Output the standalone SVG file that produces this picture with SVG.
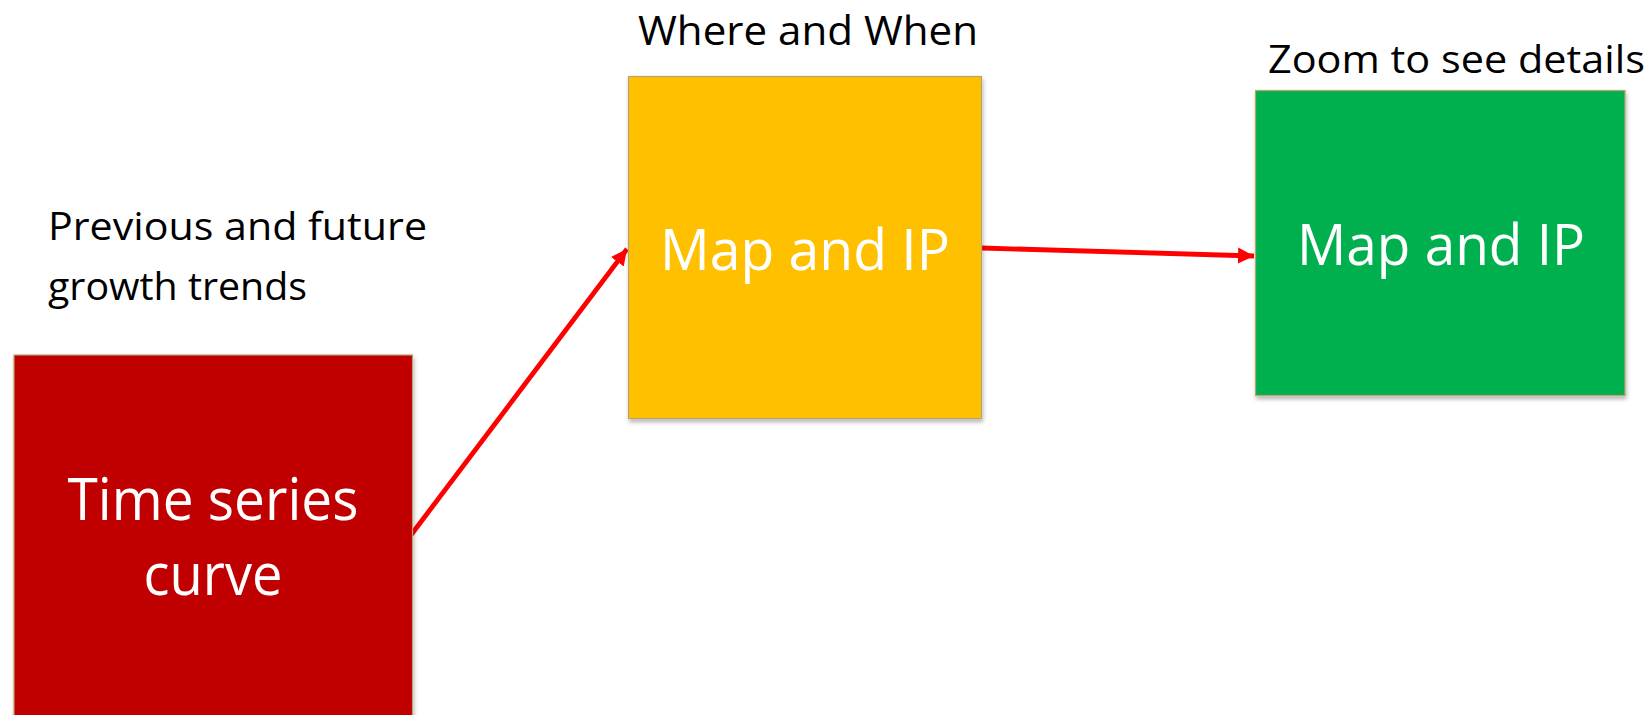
<svg xmlns="http://www.w3.org/2000/svg" width="1652" height="715" viewBox="0 0 1652 715">
  <style>
    .box { stroke: #b9a36e; stroke-width: 1.2; filter: url(#shadow); }
    .label { font-family: "Open Sans", "Liberation Sans", sans-serif; fill: #000000; }
    .inner { font-family: "Open Sans", "Liberation Sans", sans-serif; fill: #ffffff; text-anchor: middle; }
    .conn { stroke: #ff0000; stroke-width: 4.8; fill: none; marker-end: url(#arrow); }
  </style>
  <defs>
    <filter id="shadow" x="-5%" y="-5%" width="115%" height="115%">
      <feGaussianBlur in="SourceAlpha" stdDeviation="2"/>
      <feOffset dx="1" dy="3" result="b"/>
      <feComponentTransfer><feFuncA type="linear" slope="0.3"/></feComponentTransfer>
      <feMerge><feMergeNode/><feMergeNode in="SourceGraphic"/></feMerge>
    </filter>
    <marker id="arrow" markerUnits="userSpaceOnUse" markerWidth="18" markerHeight="18" refX="16" refY="8" orient="auto" viewBox="0 0 18 16">
      <path d="M0,0 L16,8 L0,16 Z" fill="#ff0000"/>
    </marker>
  </defs>
  <rect width="1652" height="715" fill="#ffffff"/>

  <g id="connectors">
    <line class="conn" x1="411" y1="535" x2="627" y2="249"/>
    <line class="conn" x1="982" y1="248" x2="1254" y2="256"/>
  </g>

  <g id="node-timeseries">
    <rect class="box" x="14" y="355" width="398.5" height="380" fill="#c00000"/>
    <text class="inner" x="213" y="520" font-size="59" textLength="291" lengthAdjust="spacingAndGlyphs">Time series</text>
    <text class="inner" x="213" y="595" font-size="59" textLength="139" lengthAdjust="spacingAndGlyphs">curve</text>
  </g>
  <g id="label-previous">
    <text class="label" x="48" y="240" font-size="38" textLength="379" lengthAdjust="spacingAndGlyphs">Previous and future</text>
    <text class="label" x="48" y="300" font-size="38" textLength="259" lengthAdjust="spacingAndGlyphs">growth trends</text>
  </g>

  <g id="node-map1">
    <rect class="box" x="628.5" y="76.5" width="353" height="342" fill="#ffc000"/>
    <text class="inner" x="805" y="270" font-size="57" textLength="290" lengthAdjust="spacingAndGlyphs">Map and IP</text>
  </g>
  <g id="label-where">
    <text class="label" x="638" y="45" font-size="41" textLength="340" lengthAdjust="spacingAndGlyphs">Where and When</text>
  </g>

  <g id="node-map2">
    <rect class="box" x="1255.5" y="90.5" width="369.5" height="305" fill="#00b050"/>
    <text class="inner" x="1441" y="265" font-size="57" textLength="288" lengthAdjust="spacingAndGlyphs">Map and IP</text>
  </g>
  <g id="label-zoom">
    <text class="label" x="1268" y="72.5" font-size="39" textLength="377" lengthAdjust="spacingAndGlyphs">Zoom to see details</text>
  </g>
</svg>
